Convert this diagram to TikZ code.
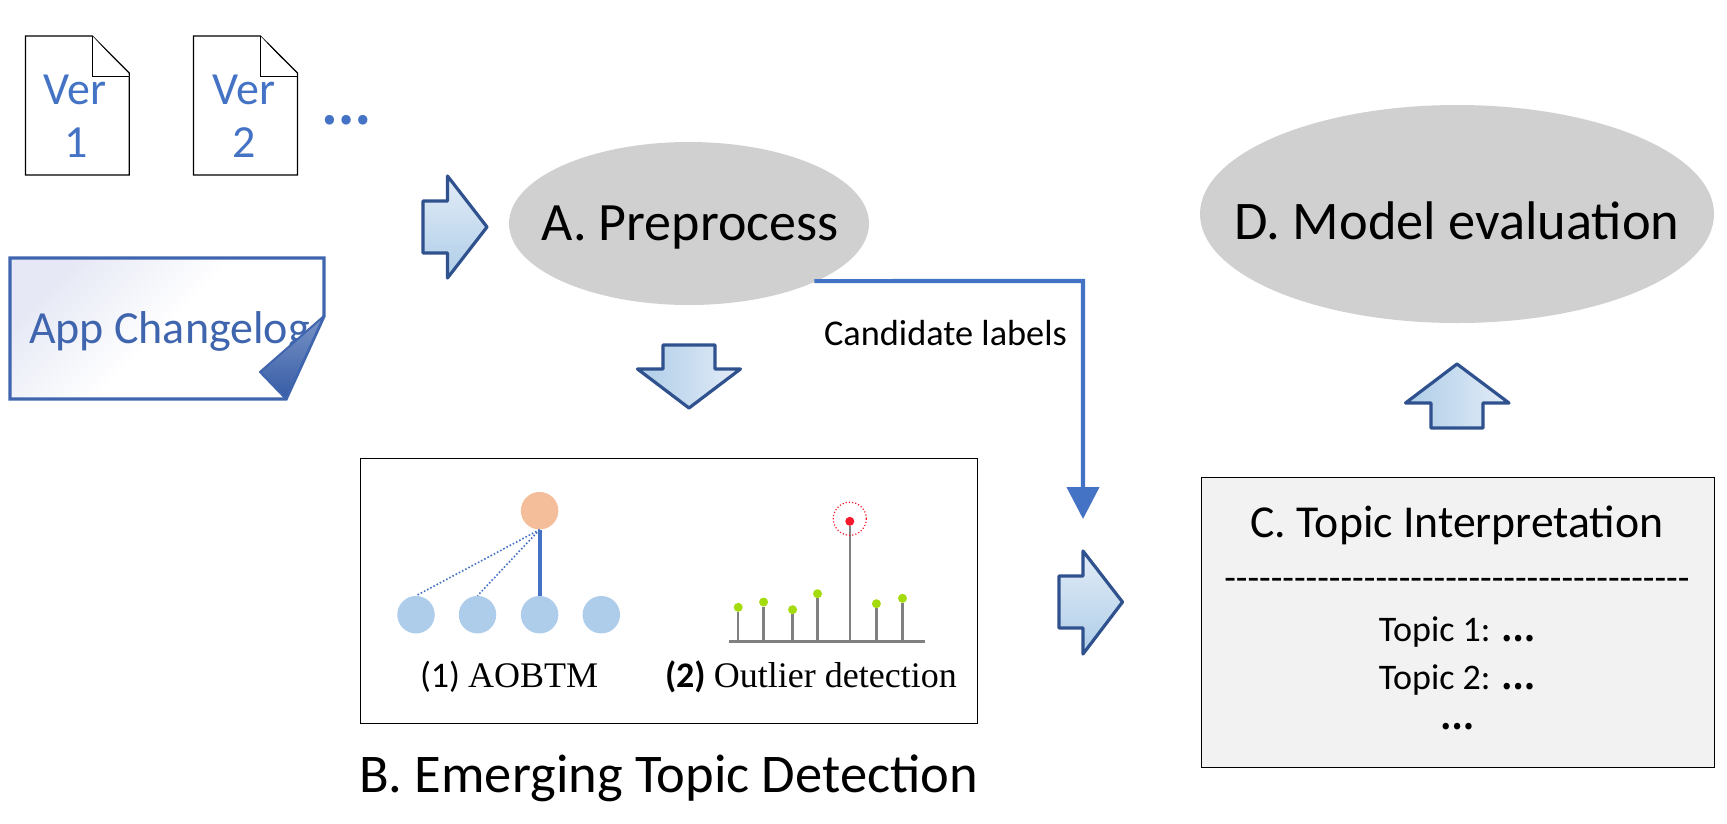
\documentclass[tikz,border=0pt]{standalone}
\usepackage{fontspec}
\setmainfont{Carlito}
\newfontfamily\timesf{Liberation Serif}
\newfontfamily\cjkf{Noto Sans CJK SC}
\usetikzlibrary{arrows.meta,shapes.geometric}
\definecolor{docblue}{HTML}{4472C4}
\definecolor{noteblue}{HTML}{3F65AE}
\definecolor{notetint}{HTML}{E6E9F5}
\definecolor{foldblue}{HTML}{365CA6}
\definecolor{arrowline}{HTML}{2F528F}
\definecolor{arrlight}{HTML}{E3ECF7}
\definecolor{arrdark}{HTML}{AECDE8}
\definecolor{ellgray}{HTML}{D0D0D0}
\definecolor{boxgray}{HTML}{F2F2F2}
\definecolor{leafblue}{HTML}{AECDEB}
\definecolor{rootorange}{HTML}{F4BE9A}
\definecolor{stemgray}{HTML}{808080}
\definecolor{dotgreen}{HTML}{A4DB0C}
\definecolor{dotred}{HTML}{F5182A}
\newcommand{\fs}[1]{\fontsize{#1}{#1}\selectfont}
\newcommand{\cdotsb}{{\cjkf\bfseries …}}
\tikzset{
  docpage/.style={draw=black,line width=1.3pt,fill=white,line join=miter},
  bigarrow/.style={draw=arrowline,line width=3.2pt,line join=round},
  txt/.style={inner sep=0pt,outer sep=0pt,anchor=base},
  blueTxt/.style={txt,text=docblue,font=\fs{46}},
  procell/.style={ellipse,fill=ellgray,inner sep=0pt,outer sep=0pt},
  leaf/.style={circle,fill=leafblue,minimum size=37.5pt,inner sep=0pt},
  stemline/.style={draw=stemgray,line width=2.4pt},
  greendot/.style={circle,fill=dotgreen,minimum size=9pt,inner sep=0pt},
}
\begin{document}
\begin{tikzpicture}[x=1pt,y=-1pt]
\useasboundingbox (0,0) rectangle (1727,823);
% documents
\draw[docpage] (25.5,36) -- (92.3,36) -- (129.3,73) -- (129.3,175) -- (25.5,175) -- cycle;
\draw[docpage] (92.3,36) -- (92.3,76.3) -- (129.3,76.3);
\draw[docpage] (193.5,36) -- (260.3,36) -- (297.5,73) -- (297.5,175) -- (193.5,175) -- cycle;
\draw[docpage] (260.3,36) -- (260.3,76.3) -- (297.5,76.3);
\node[blueTxt] (v1a) at (75,104.5) {Ver};
\node[blueTxt] (v1b) at (76,157.5) {1};
\node[blueTxt] (v2a) at (244,104.5) {Ver};
\node[blueTxt] (v2b) at (244,157.5) {2};
\node[txt,text=docblue,font=\cjkf\bfseries\fs{44}] (more) at (346,124) {…};
% changelog note
\draw[noteblue,line width=3.4pt,top color=notetint,bottom color=white,middle color=white,shading angle=45]
  (10,258) -- (324,258) -- (324,316) -- (286,399) -- (10,399) -- cycle;
\node[txt,anchor=base west,text=noteblue,font=\fs{46}] (log) at (29,343.5) {App Changelog};
\draw[noteblue,line width=2pt,top color=noteblue!70!white,bottom color=foldblue,line join=round]
  (324,316) -- (286,399) -- (260,372) -- cycle;
% arrows
\draw[bigarrow,top color=arrlight,bottom color=arrdark]
  (423,201) -- (447.5,201) -- (447.5,176) -- (487,227) -- (447.5,278) -- (447.5,253) -- (423,253) -- cycle;
\draw[bigarrow,left color=arrdark,right color=arrlight]
  (663,345) -- (715,345) -- (715,369) -- (740.5,369) -- (689,408) -- (637.5,369) -- (663,369) -- cycle;
\draw[bigarrow,left color=arrdark,right color=arrlight]
  (1431,428) -- (1483,428) -- (1483,403) -- (1509,403) -- (1457,364) -- (1405.5,403) -- (1431,403) -- cycle;
\draw[bigarrow,top color=arrlight,bottom color=arrdark]
  (1059,576) -- (1083,576) -- (1083,551) -- (1122.5,602) -- (1083,654) -- (1083,628) -- (1059,628) -- cycle;
% ellipses
\node[procell,minimum width=360pt,minimum height=163pt] (A) at (689,223.5) {};
\node[txt,font=\fs{54}] (Atxt) at (690,240) {A. Preprocess};
\node[procell,minimum width=514pt,minimum height=218pt] (D) at (1457,214) {};
\node[txt,font=\fs{54.4}] (Dtxt) at (1457,239) {D. Model evaluation};
% connector
\coordinate (tip) at (1083,519);
\coordinate (start) at ([xshift=-2pt]A.south east);
\draw[docblue,line width=4.2pt,-{Triangle[width=32pt,length=32pt]}] (start) -- (1083,281) -- (tip);
\node[txt,font=\fs{36.3}] (cand) at (945.5,345) {Candidate labels};
% box B
\node[draw=black,line width=1.3pt,minimum width=617pt,minimum height=264.5pt,inner sep=0pt,anchor=north west] (B) at (360,458) {};
\node[circle,fill=rootorange,minimum size=37.5pt,inner sep=0pt] (root) at (539.6,510.7) {};
\node[leaf] (l1) at (416,614.7) {};
\node[leaf] (l2) at (477.5,614.7) {};
\node[leaf] (l3) at (539.6,614.7) {};
\node[leaf] (l4) at (601.3,614.7) {};
\draw[docblue,line width=4pt] (root.south) -- (l3.north);
\draw[docblue,line width=1.6pt,dotted] (root.south) -- (l1.north);
\draw[docblue,line width=1.6pt,dotted] (root.south) -- (l2.north);
\node[txt,anchor=base west,font=\fs{36}] (aob) at (420,687.3) {(1) {\timesf AOBTM}};
\node[txt,anchor=base west,font=\fs{36}] (out) at (665,687.3) {\textbf{(2)} {\timesf Outlier detection}};
% outlier plot
\coordinate (b1) at (738.2,641.3); \coordinate (b2) at (763.6,641.3);
\coordinate (b3) at (792.6,641.3); \coordinate (b4) at (817.5,641.3);
\coordinate (b5) at (849.8,641.3); \coordinate (b6) at (876.4,641.3);
\coordinate (b7) at (902.5,641.3);
\node[greendot] (d1) at (738.2,607.3) {};
\node[greendot] (d2) at (763.6,602) {};
\node[greendot] (d3) at (792.6,609.7) {};
\node[greendot] (d4) at (817.5,593.7) {};
\node[circle,fill=dotred,minimum size=9pt,inner sep=0pt] (d5) at (849.8,521.3) {};
\node[greendot] (d6) at (876.4,603.7) {};
\node[greendot] (d7) at (902.5,598.3) {};
\foreach \i in {1,...,7} {\draw[stemline] (b\i) -- (d\i.south);}
\coordinate (bl) at (729,641.3); \coordinate (br) at (925.4,641.3);
\draw[stemgray,line width=3pt] (bl) -- (br);
\node[circle,draw=dotred,dotted,line width=1.2pt,minimum size=33pt,inner sep=0pt] (halo) at (849.8,518.7) {};
\node[txt,font=\fs{54.5}] (Btxt) at (668.5,792) {B. Emerging Topic Detection};
% box C
\node[draw=black,line width=1.3pt,fill=boxgray,minimum width=513pt,minimum height=290pt,inner sep=0pt,anchor=north west] (C) at (1201,477) {};
\node[txt,font=\fs{45.7}] (Ctxt) at (1457,537.5) {C. Topic Interpretation};
\node[txt,font=\fs{38}] (dash) at (1457,590) {-{}-{}-{}-{}-{}-{}-{}-{}-{}-{}-{}-{}-{}-{}-{}-{}-{}-{}-{}-{}-{}-{}-{}-{}-{}-{}-{}-{}-{}-{}-{}-{}-{}-{}-{}-{}-{}-{}-{}-};
\node[txt,font=\fs{36}] (t1) at (1457,641) {Topic 1: {\fs{30}\cdotsb}};
\node[txt,font=\fs{36}] (t2) at (1457,689) {Topic 2: {\fs{30}\cdotsb}};
\node[txt,font=\fs{30}] (t3) at (1457,729) {\cdotsb};
\end{tikzpicture}
\end{document}
